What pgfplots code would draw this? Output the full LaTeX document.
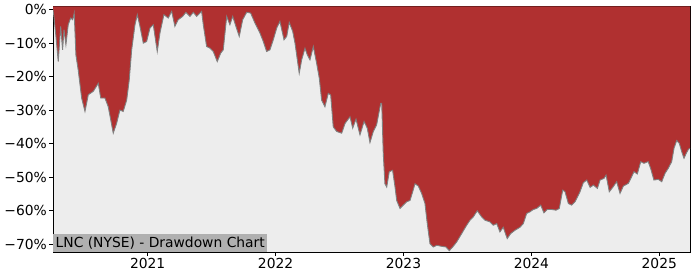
\documentclass[border=0pt]{standalone}
\usepackage{pgfplots}
\pgfplotsset{compat=1.18}
\usepackage{pgfplotstable}
\usepgfplotslibrary{fillbetween}
\usepackage{fontspec}
\setmainfont{DejaVu Sans}
\definecolor{ddred}{RGB}{176,48,48}
\definecolor{bggray}{RGB}{237,237,237}
\definecolor{boxgray}{RGB}{176,176,176}
\pgfplotstableread{
x y
2020.260 0
2020.267 -2
2020.283 -8
2020.301 -15.5
2020.320 -5
2020.335 -12
2020.346 -6
2020.361 -10.5
2020.379 -4.5
2020.398 -2.5
2020.414 -3
2020.426 -1
2020.439 -13.5
2020.457 -18
2020.484 -26.4
2020.510 -30.4
2020.536 -25.4
2020.575 -24.4
2020.614 -22
2020.633 -26.4
2020.666 -26.4
2020.692 -29
2020.731 -36.9
2020.757 -34
2020.783 -30
2020.809 -30.4
2020.836 -27
2020.856 -21
2020.875 -12
2020.901 -4.5
2020.919 -1.5
2020.940 -5
2020.966 -10
2020.992 -9.5
2021.018 -5.5
2021.044 -4.5
2021.075 -12.5
2021.096 -7
2021.127 -1.5
2021.161 -2.5
2021.188 -0.5
2021.213 -5
2021.239 -3
2021.274 -2
2021.299 -0.8
2021.331 -2
2021.357 -0.8
2021.383 -2
2021.422 -0.5
2021.435 -4.5
2021.461 -11
2021.487 -11.5
2021.513 -12.5
2021.544 -15.5
2021.571 -13
2021.591 -12
2021.618 -2
2021.643 -4.5
2021.665 -2
2021.690 -5
2021.716 -8
2021.743 -3
2021.774 -0.8
2021.805 -1
2021.839 -4
2021.878 -7
2021.904 -9.5
2021.930 -12.5
2021.956 -12
2021.982 -9
2022.009 -5.5
2022.034 -3.5
2022.066 -9
2022.087 -8
2022.107 -3.8
2022.134 -6.5
2022.152 -10
2022.185 -19
2022.204 -15
2022.230 -11.5
2022.248 -13.5
2022.269 -15
2022.295 -11
2022.321 -16
2022.342 -20.5
2022.360 -27
2022.386 -29
2022.412 -25
2022.431 -25.5
2022.451 -35
2022.478 -36.4
2022.517 -36.9
2022.543 -34
2022.582 -32
2022.603 -35.4
2022.629 -32.7
2022.660 -37.4
2022.692 -33.4
2022.717 -35.4
2022.738 -39.7
2022.764 -36.4
2022.790 -34.4
2022.822 -28
2022.830 -28
2022.842 -43
2022.855 -52
2022.869 -53
2022.889 -48.4
2022.915 -48
2022.934 -53
2022.947 -57
2022.973 -59.4
2022.998 -58.4
2023.025 -57.4
2023.051 -57
2023.072 -54.4
2023.090 -52
2023.116 -52.7
2023.142 -54.9
2023.168 -57.9
2023.186 -63.9
2023.207 -69.9
2023.233 -70.9
2023.260 -70.4
2023.299 -70.7
2023.332 -70.9
2023.358 -72
2023.385 -70.9
2023.416 -69.4
2023.455 -66.9
2023.494 -64.4
2023.520 -62.9
2023.546 -61.9
2023.577 -60.1
2023.611 -61.9
2023.637 -62.9
2023.676 -63.4
2023.702 -64.4
2023.729 -63.9
2023.754 -66.4
2023.780 -65
2023.811 -68.4
2023.838 -66.9
2023.872 -65.9
2023.911 -65
2023.937 -63.9
2023.963 -60.9
2023.989 -60.4
2024.015 -59.7
2024.041 -59.4
2024.073 -58.4
2024.098 -60.7
2024.124 -59.7
2024.158 -59.7
2024.192 -59.9
2024.218 -59.4
2024.245 -53.9
2024.263 -54.4
2024.289 -57.9
2024.315 -58.4
2024.341 -57.4
2024.367 -55.4
2024.380 -54.4
2024.406 -51.7
2024.433 -50.9
2024.459 -53.1
2024.485 -52.4
2024.516 -53.4
2024.537 -50.9
2024.568 -50.4
2024.584 -49.4
2024.609 -54.4
2024.636 -53.1
2024.667 -51.4
2024.693 -54.9
2024.719 -52.7
2024.758 -51.9
2024.784 -49.9
2024.802 -48.4
2024.828 -49.1
2024.855 -45.4
2024.880 -45.9
2024.913 -45.4
2024.932 -47.4
2024.958 -50.9
2024.992 -50.7
2025.019 -51.4
2025.045 -48.9
2025.070 -47.4
2025.097 -45.4
2025.115 -41.4
2025.136 -39.1
2025.156 -39.9
2025.175 -42.4
2025.193 -44.4
2025.211 -42.9
2025.228 -41.7
2025.241 -41.4
}\ddtable
\begin{document}
\begin{tikzpicture}
\begin{axis}[
  scale only axis,
  width=637bp, height=245bp,
  xmin=2020.26, xmax=2025.24,
  ymin=-72.4, ymax=0.8,
  axis background/.style={fill=bggray},
  axis line style={line width=1bp, black},
  tick pos=left,
  tick align=outside,
  major tick length=4bp,
  every tick/.style={black, line width=0.8bp},
  xtick={2021,2022,2023,2024,2025},
  xticklabels={2021,2022,2023,2024,2025},
  ytick={-70,-60,-50,-40,-30,-20,-10,0},
  yticklabels={−70\%,−60\%,−50\%,−40\%,−30\%,−20\%,−10\%,0\%},
  tick label style={font=\fontsize{13.9}{16}\selectfont},
  yticklabel style={inner xsep=2bp},
  xticklabel style={inner ysep=2bp},
  clip=true,
]
\addplot[name path=top, draw=none, forget plot] coordinates {(2020.26,1) (2025.24,1)};
\addplot[name path=dd, draw=gray, line width=0.9bp] table[x=x,y=y] {\ddtable};
\addplot[ddred] fill between[of=top and dd];
\node[anchor=south west, fill=boxgray, inner xsep=2.5bp, inner ysep=2.5bp,
  font=\fontsize{13.9}{16}\selectfont] at (rel axis cs:0,0) {LNC (NYSE) - Drawdown Chart};
\end{axis}
\path (current axis.south west) ++(-53bp,-28bp) rectangle ++(700bp,280bp);
\end{tikzpicture}
\end{document}
